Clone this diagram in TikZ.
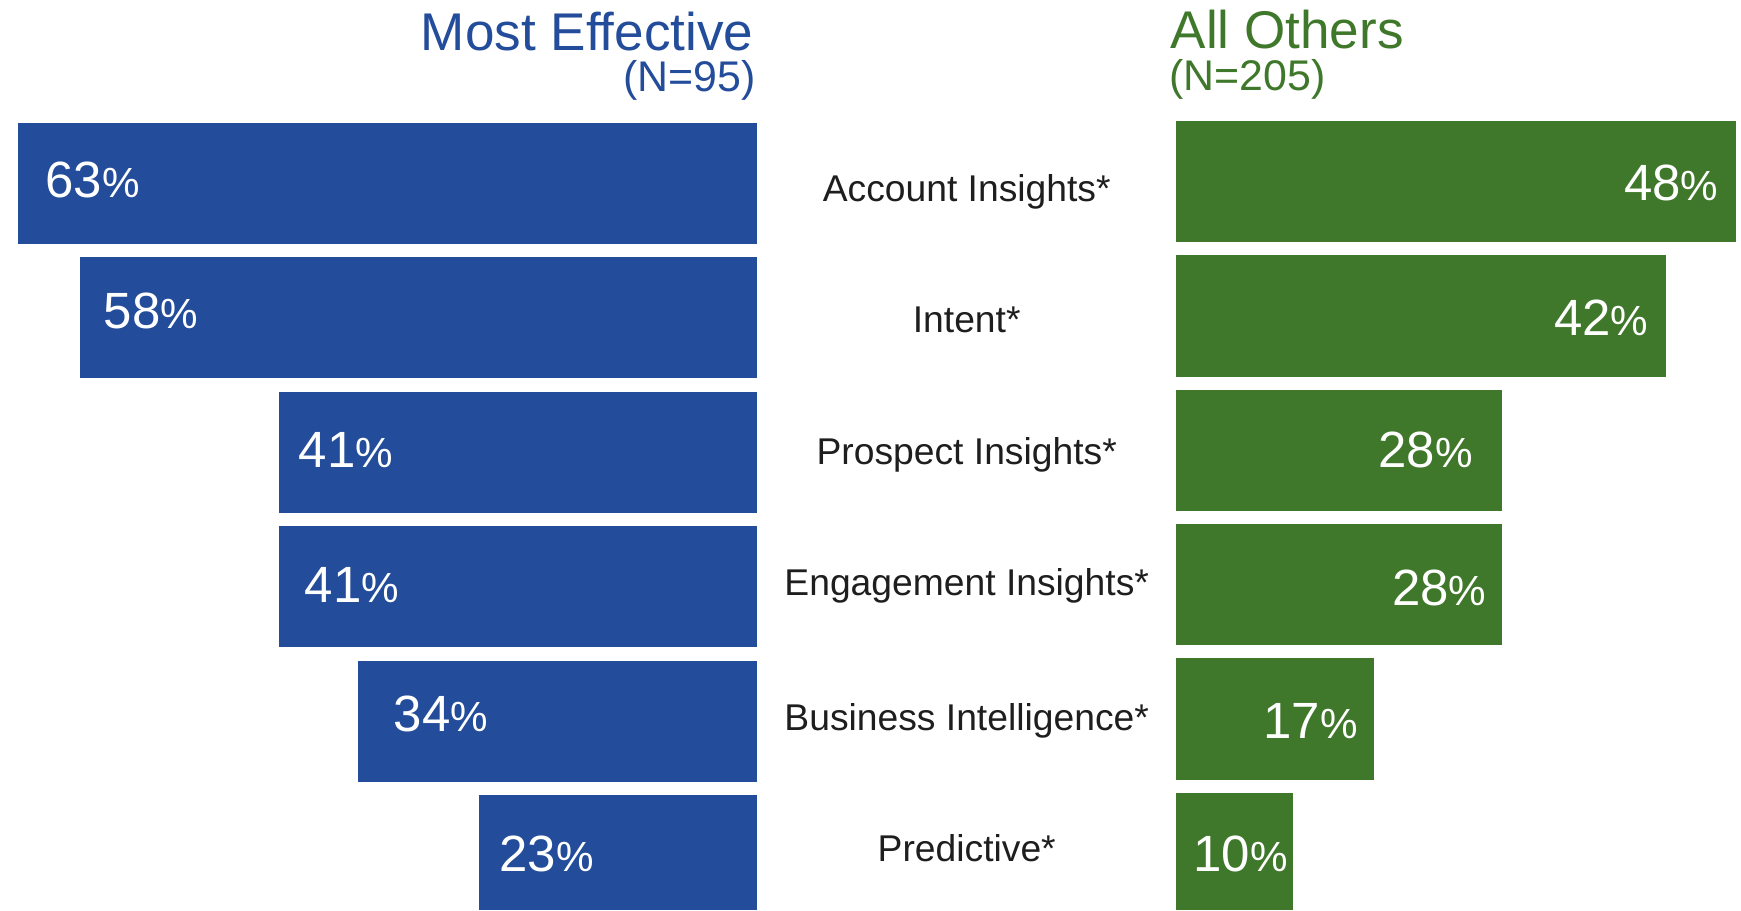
\documentclass[tikz,border=0pt]{standalone}
\usepackage{fontspec}
\setmainfont{Liberation Sans}
\definecolor{mecol}{HTML}{234C9A}
\definecolor{aocol}{HTML}{3F782A}
\definecolor{catcol}{HTML}{1E1E1E}
\newcommand\pctxt[1]{#1{\fontsize{12pt}{14pt}\selectfont\%}}
\begin{document}
\begin{tikzpicture}[x=0.1mm, y=-0.1mm,
    mebar/.style={fill=mecol},
    aobar/.style={fill=aocol},
    pctlbl/.style={inner sep=0pt, text=white, font={\fontsize{14.5pt}{17pt}\selectfont}},
    catlbl/.style={inner sep=0pt, anchor=base, text=catcol, font={\fontsize{10.6pt}{13pt}\selectfont}},
    ttl/.style={inner sep=0pt, font={\fontsize{15.1pt}{18pt}\selectfont}},
    subttl/.style={inner sep=0pt, font={\fontsize{12.2pt}{14pt}\selectfont}}]
\useasboundingbox (0,0) rectangle (1741,910);

% headings
\node[ttl, text=mecol, anchor=base east] (metitle) at (754,50) {Most Effective};
\node[subttl, text=mecol, anchor=base east] (men) at (756,91.7) {(N=95)};
\node[ttl, text=aocol, anchor=base west] (aotitle) at (1170,48.3) {All Others};
\node[subttl, text=aocol, anchor=base west] (aon) at (1169,90) {(N=205)};

% most effective bars
\foreach \i/\l/\v/\lx/\ly in {1/17.8/63/44.7/197.3, 2/80/58/103/328.3, 3/279/41/298/467.3,
    4/279/41/304/602.3, 5/358/34/393/731.7, 6/479/23/498.7/871}{
  \fill[mebar] (\l,{123+134.4*(\i-1)}) rectangle (756.7,{min(910,123+134.4*(\i-1)+121)});
  \node[pctlbl, anchor=base west] (me\i) at (\lx,\ly) {\pctxt{\v}};
}

% all others bars
\foreach \i/\v/\rx/\ly in {1/48/1719/200.7, 2/42/1649/335, 3/28/1473.5/467.3,
    4/28/1487/605, 5/17/1358.5/738.3, 6/10/1288.5/871.7}{
  \fill[aobar] (1176,{120.7+134.4*(\i-1)}) rectangle ({1176+11.66*\v},{min(910,120.7+134.4*(\i-1)+121.5)});
  \node[pctlbl, anchor=base east] (ao\i) at (\rx,\ly) {\pctxt{\v}};
}

% categories
\foreach \i/\t/\y in {1/Account Insights*/201.7, 2/Intent*/332.7, 3/Prospect Insights*/464,
    4/Engagement Insights*/595, 5/Business Intelligence*/730, 6/Predictive*/861.7}
  \node[catlbl] (cat\i) at (966.7,\y) {\t};

\end{tikzpicture}
\end{document}
